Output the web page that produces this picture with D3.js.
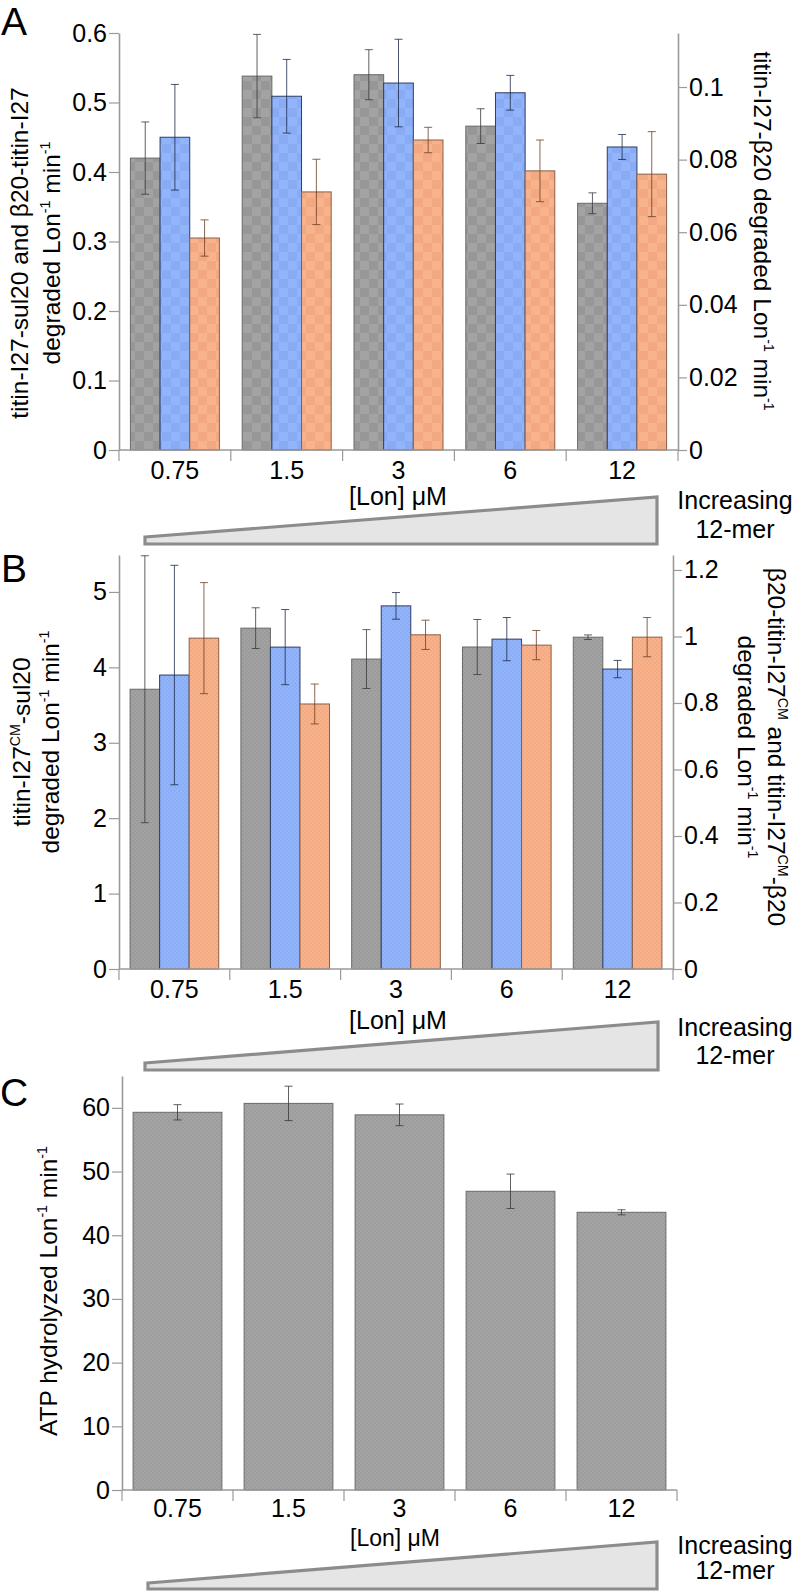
<!DOCTYPE html>
<html><head><meta charset="utf-8">
<script src="https://cdn.jsdelivr.net/npm/d3@7"></script>
<style>
body{margin:0;background:#fff}
text{font-family:"Liberation Sans",Arial,Helvetica,sans-serif;fill:#000}
</style>
</head><body>
<svg id="chart" width="799" height="1591"></svg>
<script>
const categories = ["0.75", "1.5", "3", "6", "12"];

// Panel A
const aGray = [0.420, 0.538, 0.540, 0.466, 0.355];
const aGrayErr = [0.052, 0.060, 0.036, 0.025, 0.015];
const aBlue = [0.450, 0.509, 0.528, 0.514, 0.436];
const aBlueErr = [0.076, 0.053, 0.063, 0.025, 0.018];
const aOrange = [0.0584, 0.0711, 0.0854, 0.0769, 0.0760];   // right axis
const aOrangeErr = [0.0050, 0.0090, 0.0035, 0.0085, 0.0117];
const aLeftTicks = [0, 0.1, 0.2, 0.3, 0.4, 0.5, 0.6];
const aRightTicks = [0, 0.02, 0.04, 0.06, 0.08, 0.1];

// Panel B
const bGray = [3.71, 4.52, 4.11, 4.27, 4.40];
const bGrayErr = [1.77, 0.27, 0.39, 0.365, 0.03];
const bBlue = [0.884, 0.968, 1.092, 0.992, 0.902];         // right axis
const bBlueErr = [0.33, 0.113, 0.04, 0.065, 0.026];
const bOrange = [0.995, 0.797, 1.005, 0.974, 0.998];       // right axis
const bOrangeErr = [0.167, 0.06, 0.044, 0.044, 0.059];
const bLeftTicks = [0, 1, 2, 3, 4, 5];
const bRightTicks = [0, 0.2, 0.4, 0.6, 0.8, 1, 1.2];

// Panel C
const cATP = [59.3, 60.7, 58.9, 46.9, 43.6];
const cATPErr = [1.2, 2.7, 1.7, 2.7, 0.4];
const cLeftTicks = [0, 10, 20, 30, 40, 50, 60];

const svg = d3.select("#chart");
const defs = svg.append("defs");
function checker(id, size, c1, c2) {
  const p = defs.append("pattern").attr("id", id).attr("patternUnits", "userSpaceOnUse")
    .attr("width", size * 2).attr("height", size * 2);
  p.append("rect").attr("width", size * 2).attr("height", size * 2).attr("fill", c1);
  p.append("rect").attr("width", size).attr("height", size).attr("fill", c2);
  p.append("rect").attr("x", size).attr("y", size).attr("width", size).attr("height", size).attr("fill", c2);
}
checker("pAg", 9, "#a3a3a3", "#979797");
checker("pAb", 9, "#92b4fb", "#88abf4");
checker("pAo", 9, "#f8b38d", "#f2a881");
checker("pBg", 2, "#a3a3a3", "#9a9a9a");
checker("pBb", 2, "#93b5fb", "#8aacf5");
checker("pBo", 2, "#f8b28c", "#f3a982");
checker("pCg", 2, "#a5a5a5", "#9c9c9c");

function rich(parent, tx, ty, rot, segs, size, anchor) {
  const t = parent.append("text")
    .attr("transform", `translate(${tx},${ty}) rotate(${rot})`)
    .attr("text-anchor", anchor || "middle").attr("font-size", size);
  const sh = size * 0.4;
  let raised = false;
  segs.forEach(s => {
    const sup = Array.isArray(s);
    const ts = t.append("tspan").text(sup ? s[0] : s);
    if (sup) { ts.attr("font-size", size * 0.58).attr("dy", -sh); raised = true; }
    else if (raised) { ts.attr("dy", sh); raised = false; }
  });
  return t;
}

const fmt = d => String(+d.toFixed(3));
const AX = "#9a9a9a";

function drawPanel(p) {
  const g = svg.append("g");
  const x = d3.scaleBand().domain(categories).range([p.x0, p.x1])
    .paddingInner(p.pad).paddingOuter(p.pad / 2);
  const yL = d3.scaleLinear().domain([0, p.leftMax]).range([p.yBase, p.yTop]);
  const yR = p.rightMax ? d3.scaleLinear().domain([0, p.rightMax]).range([p.yBase, p.yTop]) : null;
  const sub = d3.scaleBand().domain(p.series.map(s => s.key)).range([0, x.bandwidth()]);

  p.series.forEach(s => {
    const y = s.axis === "right" ? yR : yL;
    const data = s.values.map((v, i) => ({ cat: categories[i], v, e: s.errors[i] }));
    g.selectAll(null).data(data).enter().append("rect")
      .attr("x", d => x(d.cat) + sub(s.key)).attr("width", sub.bandwidth())
      .attr("y", d => y(d.v)).attr("height", d => y(0) - y(d.v))
      .attr("fill", `url(#${s.pattern})`).attr("stroke", s.stroke).attr("stroke-width", 1);
    const eb = g.selectAll(null).data(data).enter().append("g")
      .attr("stroke", s.errColor).attr("stroke-width", 1).attr("stroke-opacity", 0.8);
    const cx = d => x(d.cat) + sub(s.key) + sub.bandwidth() / 2;
    eb.append("line").attr("x1", cx).attr("x2", cx).attr("y1", d => y(d.v + d.e)).attr("y2", d => y(d.v - d.e));
    eb.append("line").attr("x1", d => cx(d) - 4).attr("x2", d => cx(d) + 4).attr("y1", d => y(d.v + d.e)).attr("y2", d => y(d.v + d.e));
    eb.append("line").attr("x1", d => cx(d) - 4).attr("x2", d => cx(d) + 4).attr("y1", d => y(d.v - d.e)).attr("y2", d => y(d.v - d.e));
  });

  // left axis
  const gl = g.append("g").attr("transform", `translate(${p.x0},0)`)
    .call(d3.axisLeft(yL).tickValues(p.leftTicks).tickFormat(fmt).tickSize(10).tickSizeOuter(0).tickPadding(2));
  // right axis
  let gr = null;
  if (yR) {
    gr = g.append("g").attr("transform", `translate(${p.x1},0)`)
      .call(d3.axisRight(yR).tickValues(p.rightTicks).tickFormat(fmt).tickSize(9).tickSizeOuter(0).tickPadding(2));
  }
  [gl, gr].forEach(a => {
    if (!a) return;
    a.select(".domain").attr("stroke", AX).attr("stroke-width", 1.6);
    a.selectAll(".tick line").attr("stroke", AX).attr("stroke-width", 1.2);
    a.selectAll(".tick text").attr("font-size", p.fs).attr("font-family", null).attr("fill", "#000");
  });

  // x axis (band boundaries)
  const bounds = d3.range(categories.length + 1).map(i => x.range()[0] + i * x.step());
  g.append("line").attr("x1", p.x0).attr("x2", p.x1).attr("y1", p.yBase).attr("y2", p.yBase)
    .attr("stroke", AX).attr("stroke-width", 1.6);
  g.selectAll(null).data(bounds).enter().append("line")
    .attr("x1", d => d).attr("x2", d => d).attr("y1", p.yBase).attr("y2", p.yBase + 11)
    .attr("stroke", AX).attr("stroke-width", 1.2);
  g.selectAll(null).data(categories).enter().append("text")
    .attr("x", d => x(d) + x.bandwidth() / 2).attr("y", p.tickLabelY)
    .attr("text-anchor", "middle").attr("font-size", p.fs).text(d => d);
  g.append("text").attr("x", p.xTitleX).attr("y", p.xTitleY).attr("text-anchor", "middle")
    .attr("font-size", p.xtfs || p.fs).text("[Lon] μM");

  // wedge
  g.append("polygon").attr("points", p.wedge.map(q => q.join(",")).join(" "))
    .attr("fill", "#e5e5e5").attr("stroke", "#8c8c8c").attr("stroke-width", 3.2);
  g.append("text").attr("x", 735).attr("y", p.incY[0]).attr("text-anchor", "middle").attr("font-size", p.fs).text("Increasing");
  g.append("text").attr("x", 735).attr("y", p.incY[1]).attr("text-anchor", "middle").attr("font-size", p.fs).text("12-mer");

  // panel letter
  g.append("text").attr("x", p.letter[1]).attr("y", p.letter[2]).attr("font-size", 39).text(p.letter[0]);

  // axis titles
  p.titles.forEach(t => rich(g, t.x, t.y, t.rot, t.segs, t.fs || p.tfs));
}

const LON = ["degraded Lon", ["-1"], " min", ["-1"]];

drawPanel({
  x0: 119, x1: 678, yBase: 450, yTop: 33, pad: 0.204, fs: 25, tfs: 24.5,
  leftMax: 0.6, rightMax: 0.11488, leftTicks: aLeftTicks, rightTicks: aRightTicks,
  series: [
    { key: "g", values: aGray, errors: aGrayErr, axis: "left", pattern: "pAg", stroke: "#6a6a6a", errColor: "#3a3a3a" },
    { key: "b", values: aBlue, errors: aBlueErr, axis: "left", pattern: "pAb", stroke: "#2d3d63", errColor: "#1d2a48" },
    { key: "o", values: aOrange, errors: aOrangeErr, axis: "right", pattern: "pAo", stroke: "#8a6048", errColor: "#6e3f25" }
  ],
  tickLabelY: 479, xTitleX: 398, xTitleY: 505,
  wedge: [[145, 537], [657, 497], [657, 544], [145, 544]], incY: [509, 538],
  letter: ["A", 1, 35],
  titles: [
    { x: 28, y: 253, rot: -90, segs: ["titin-I27-sul20 and β20-titin-I27"] },
    { x: 60, y: 253, rot: -90, segs: LON },
    { x: 754, y: 231, rot: 90, segs: ["titin-I27-β20 ", ...LON] }
  ]
});

drawPanel({
  x0: 119, x1: 673, yBase: 969, yTop: 555, pad: 0.2, fs: 25, tfs: 24.5,
  leftMax: 5.49, rightMax: 1.245, leftTicks: bLeftTicks, rightTicks: bRightTicks,
  series: [
    { key: "g", values: bGray, errors: bGrayErr, axis: "left", pattern: "pBg", stroke: "#6a6a6a", errColor: "#3a3a3a" },
    { key: "b", values: bBlue, errors: bBlueErr, axis: "right", pattern: "pBb", stroke: "#2d3d63", errColor: "#1d2a48" },
    { key: "o", values: bOrange, errors: bOrangeErr, axis: "right", pattern: "pBo", stroke: "#8a6048", errColor: "#6e3f25" }
  ],
  tickLabelY: 998, xTitleX: 398, xTitleY: 1029,
  wedge: [[145, 1063], [658, 1022], [658, 1070], [145, 1070]], incY: [1036, 1064],
  letter: ["B", 1, 582],
  titles: [
    { x: 30, y: 742, rot: -90, segs: ["titin-I27", ["CM"], "-sul20"] },
    { x: 59, y: 742, rot: -90, segs: LON },
    { x: 768, y: 747, rot: 90, segs: ["β20-titin-I27", ["CM"], " and titin-I27", ["CM"], "-β20"] },
    { x: 738, y: 747, rot: 90, segs: LON }
  ]
});

drawPanel({
  x0: 122, x1: 677, yBase: 1490, yTop: 1076, pad: 0.2, fs: 25, tfs: 24.5, xtfs: 23,
  leftMax: 65, rightMax: null, leftTicks: cLeftTicks, rightTicks: null,
  series: [
    { key: "g", values: cATP, errors: cATPErr, axis: "left", pattern: "pCg", stroke: "#6a6a6a", errColor: "#3a3a3a" }
  ],
  tickLabelY: 1517, xTitleX: 395, xTitleY: 1546,
  wedge: [[148, 1583], [657, 1542], [657, 1589], [148, 1589]], incY: [1554, 1579],
  letter: ["C", 0, 1106],
  titles: [
    { x: 57, y: 1291, rot: -90, segs: ["ATP hydrolyzed Lon", ["-1"], " min", ["-1"]] }
  ]
});
</script>
</body></html>
